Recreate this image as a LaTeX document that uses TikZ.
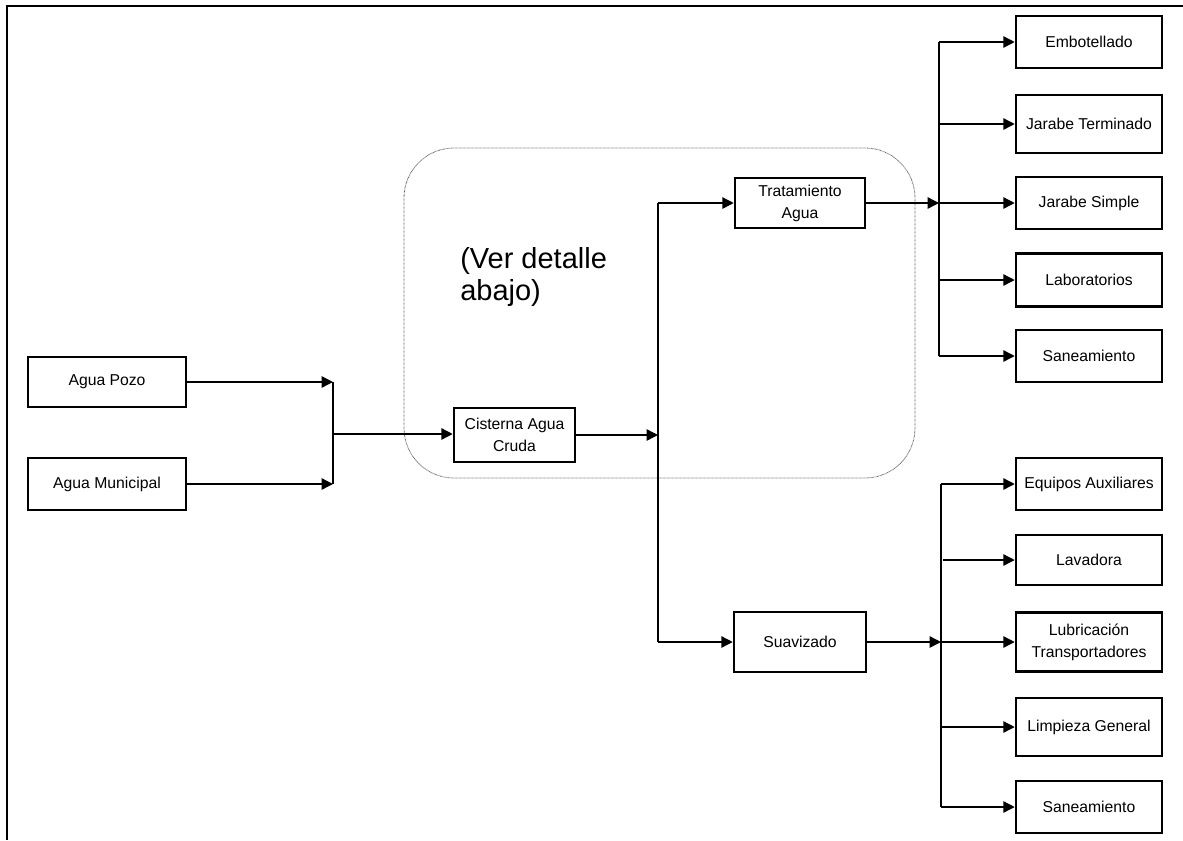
\documentclass[tikz,border=0pt]{standalone}
\usepackage{fontspec}
\setmainfont{Liberation Sans}
\usetikzlibrary{arrows.meta}
\begin{document}
\begin{tikzpicture}[x=0.75pt,y=-0.75pt,
  box/.style={draw, line width=1.9pt, fill=white, align=center, inner sep=0pt,
    font=\fontsize{11.8}{16.5}\selectfont},
  sz/.style 2 args={minimum width=#1*0.75pt, minimum height=#2*0.75pt},
  flow/.style={line width=1pt, -{Triangle[length=8.5pt,width=8.5pt]}},
  pipe/.style={line width=1pt},
  zonebox/.style={draw=gray!70!black, line width=0.6pt, dash pattern=on 0.5pt off 0.5pt,
    rounded corners=37.5pt, inner sep=0pt},
]
\useasboundingbox (0,0) rectangle (1183,840);

% page frame
\draw[line width=1.6pt] (1183,6) -- (7,6) -- (7,840);

% dotted region around the raw-water cistern and treatment
\node[zonebox, sz={511}{330}] (zone) at (659.5,313) {};
\node[anchor=north west, inner sep=0pt, align=left,
      font=\fontsize{21.75}{24.5}\selectfont] (note) at (460,247) {(Ver detalle\\abajo)};

% sources
\node[box, sz={158}{50}] (pozo) at (107,382) {Agua Pozo};
\node[box, sz={158}{52}] (muni) at (107,484) {Agua Municipal};

% storage and treatment
\node[box, sz={121}{54}] (cist) at (514.5,435) {Cisterna Agua\\Cruda};
\node[box, sz={130}{50}] (trat) at (800,203) {Tratamiento\\Agua};
\node[box, sz={132}{60}] (suav) at (800,642) {Suavizado};

% treated-water users
\node[box, sz={146}{52}] (emb)  at (1089,42)  {Embotellado};
\node[box, sz={146}{58}] (jt)   at (1089,124) {Jarabe Terminado};
\node[box, sz={146}{52}] (js)   at (1089,203) {Jarabe Simple};
\node[box, sz={146}{53}] (lab)  at (1089,280) {Laboratorios};
\node[box, sz={146}{52}] (san)  at (1089,356) {Saneamiento};

% softened-water users
\node[box, sz={146}{52}] (ea)   at (1089,484) {Equipos Auxiliares};
\node[box, sz={146}{50}] (lav)  at (1089,560) {Lavadora};
\node[box, sz={146}{59}] (lt)   at (1089,642) {Lubricación\\Transportadores};
\node[box, sz={146}{58}] (lg)   at (1089,727) {Limpieza General};
\node[box, sz={146}{52}] (san2) at (1089,807) {Saneamiento};

% junction points
\coordinate (j1) at (333,434);
\coordinate (j2) at (658,435);
\coordinate (j3) at (939,203);
\coordinate (j4) at (941,642);
\coordinate (lavstart) at (943,560);

% sources into the cistern
\draw[flow] (pozo.east) -- (pozo.east -| j1);
\draw[flow] (muni.east) -- (muni.east -| j1);
\draw[pipe] (j1 |- pozo.east) -- (j1 |- muni.east);
\draw[flow] (j1) -- (j1 -| cist.west);

% cistern to treatment and softening
\draw[flow] (cist.east) -- (j2);
\draw[pipe] (j2 |- trat.west) -- (j2 |- suav.west);
\draw[flow] (j2 |- trat.west) -- (trat.west);
\draw[flow] (j2 |- suav.west) -- (suav.west);

% treated water distribution
\draw[flow] (trat.east) -- (j3);
\draw[pipe] (j3 |- emb.west) -- (j3 |- san.west);
\foreach \n in {emb,jt,js,lab,san}
  \draw[flow] (j3 |- \n.west) -- (\n.west);

% softened water distribution
\draw[flow] (suav.east) -- (j4);
\draw[pipe] (j4 |- ea.west) -- (j4 |- san2.west);
\draw[flow] (lavstart) -- (lav.west);
\foreach \n in {ea,lt,lg,san2}
  \draw[flow] (j4 |- \n.west) -- (\n.west);
\end{tikzpicture}
\end{document}
